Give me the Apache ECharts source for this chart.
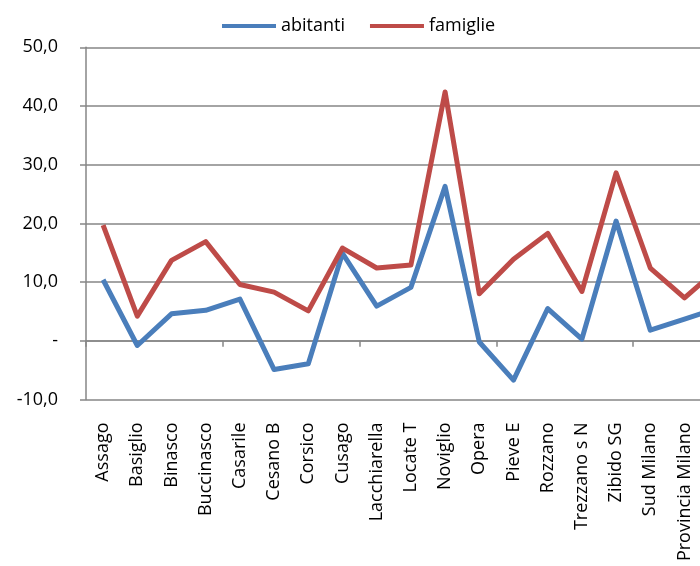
<!DOCTYPE html>
<html>
<head>
<meta charset="utf-8">
<script src="https://cdn.jsdelivr.net/npm/echarts@6/dist/echarts.min.js"></script>
<style>
html,body{margin:0;padding:0;background:#fff;width:700px;height:566px;overflow:hidden;}
#c{width:740px;height:566px;}
</style>
</head>
<body>
<div id="c"></div>
<script>
const categories = ['Assago','Basiglio','Binasco','Buccinasco','Casarile','Cesano B','Corsico','Cusago','Lacchiarella','Locate T','Noviglio','Opera','Pieve E','Rozzano','Trezzano s N','Zibido SG','Sud Milano','Provincia Milano','Lombardia'];
const abitanti = [10.4, -0.8, 4.6, 5.2, 7.1, -4.9, -3.9, 14.9, 5.9, 9.1, 26.3, -0.2, -6.7, 5.5, 0.3, 20.4, 1.8, 3.7, 5.6];
const famiglie = [19.7, 4.2, 13.7, 16.9, 9.6, 8.3, 5.1, 15.8, 12.4, 12.9, 42.4, 8.0, 13.9, 18.3, 8.4, 28.6, 12.4, 7.3, 12.4];
const yTicks = {min: -10, max: 50, interval: 10};

const FONT = '"Open Sans", "Noto Sans", sans-serif';
const chart = echarts.init(document.getElementById('c'), null, {renderer: 'canvas'});
chart.setOption({
  animation: false,
  backgroundColor: '#ffffff',
  legend: {
    left: 217, top: 12,
    itemWidth: 54, itemHeight: 4, itemGap: 25,
    icon: 'rect',
    textStyle: {fontFamily: FONT, fontSize: 18, color: '#000'},
    data: ['abitanti', 'famiglie']
  },
  grid: {left: 86, top: 47.3, width: 649.8, height: 352.2, containLabel: false},
  xAxis: [{
    type: 'category',
    data: categories,
    boundaryGap: true,
    axisLine: {onZero: true, lineStyle: {color: '#868686', width: 1.5}},
    axisTick: {show: true, length: 6, alignWithLabel: false, lineStyle: {color: '#868686', width: 1.5}},
    axisLabel: {show: false},
    splitLine: {show: false}
  }, {
    type: 'category',
    data: categories,
    position: 'bottom',
    boundaryGap: true,
    axisLine: {show: false, onZero: false},
    axisTick: {show: false},
    axisLabel: {show: true, rotate: 90, interval: 0, margin: 23, fontFamily: FONT, fontSize: 18, color: '#000'},
    splitLine: {show: false}
  }],
  yAxis: {
    type: 'value',
    min: yTicks.min, max: yTicks.max, interval: yTicks.interval,
    axisLine: {show: true, lineStyle: {color: '#868686', width: 1.5}},
    axisTick: {show: true, length: 6, lineStyle: {color: '#868686', width: 1.5}},
    splitLine: {show: true, lineStyle: {color: '#868686', width: 1.5}},
    axisLabel: {
      margin: 28, fontFamily: FONT, fontSize: 18, color: '#000',
      formatter: v => v === 0 ? '-' : v.toFixed(1).replace('.', ',')
    }
  },
  series: [{
    name: 'abitanti', type: 'line', data: abitanti, xAxisIndex: 0,
    symbol: 'none', color: '#4A7EBB',
    lineStyle: {width: 5, color: '#4A7EBB', join: 'round'}
  }, {
    name: 'famiglie', type: 'line', data: famiglie, xAxisIndex: 0,
    symbol: 'none', color: '#BE4B48',
    lineStyle: {width: 5, color: '#BE4B48', join: 'round'}
  }]
});
</script>
</body>
</html>
